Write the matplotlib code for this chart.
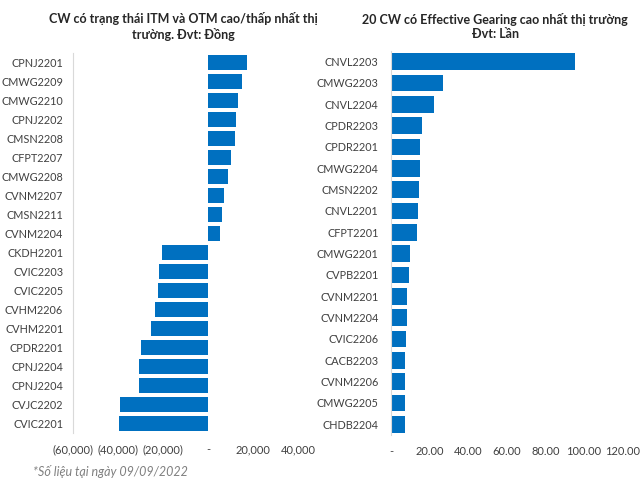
import matplotlib.pyplot as plt
from matplotlib.ticker import FuncFormatter

plt.rcParams['font.family'] = ['Lato', 'DejaVu Sans']

# bieu do trai: ITM / OTM (Dong)
itm_names = ['CPNJ2201', 'CMWG2209', 'CMWG2210', 'CPNJ2202', 'CMSN2208',
             'CFPT2207', 'CMWG2208', 'CVNM2207', 'CMSN2211', 'CVNM2204',
             'CKDH2201', 'CVIC2203', 'CVIC2205', 'CVHM2206', 'CVHM2201',
             'CPDR2201', 'CPNJ2204', 'CPNJ2204', 'CVJC2202', 'CVIC2201']
itm_values = [17300, 15100, 13300, 12400, 12000, 10200, 8900, 7100, 6200, 5300,
              -20400, -21800, -22200, -23500, -25300, -29800, -30700, -30700,
              -39100, -39600]
itm_ticks = [-60000, -40000, -20000, 0, 20000, 40000]

# bieu do phai: Effective Gearing (Lan)
eg_names = ['CNVL2203', 'CMWG2203', 'CNVL2204', 'CPDR2203', 'CPDR2201',
            'CMWG2204', 'CMSN2202', 'CNVL2201', 'CFPT2201', 'CMWG2201',
            'CVPB2201', 'CVNM2201', 'CVNM2204', 'CVIC2206', 'CACB2203',
            'CVNM2206', 'CMWG2205', 'CHDB2204']
eg_values = [95.4, 26.7, 22.0, 15.9, 14.9, 14.9, 14.4, 13.8, 13.3, 9.7,
             9.2, 8.2, 8.2, 7.7, 7.2, 7.2, 7.2, 7.2]
eg_ticks = [0, 20, 40, 60, 80, 100, 120]

blue = '#0070C0'
txt = '#404040'


def fmt_itm(v, pos):
    if v == 0:
        return '-'
    if v < 0:
        return '({:,.0f})'.format(-v)
    return '{:,.0f}'.format(v)


def fmt_eg(v, pos):
    if v == 0:
        return '-'
    return '{:.2f}'.format(v)


def style(ax, ypad):
    for s in ['top', 'right', 'bottom']:
        ax.spines[s].set_visible(False)
    ax.spines['left'].set_color('#d9d9d9')
    ax.tick_params(length=0, labelsize=8, colors=txt)
    ax.tick_params(axis='x', pad=8)
    ax.tick_params(axis='y', pad=ypad, labelsize=7.8)


fig = plt.figure(figsize=(6.4, 4.8), dpi=100)

ax1 = fig.add_axes([0.114, 0.098, 0.352, 0.792])
ax1.barh(range(len(itm_values)), itm_values, height=0.8, color=blue)
ax1.set_yticks(range(len(itm_names)))
ax1.set_yticklabels(itm_names)
ax1.set_ylim(len(itm_values) - 0.5, -0.5)
ax1.set_xlim(-60000, 40000)
ax1.set_xticks(itm_ticks)
ax1.xaxis.set_major_formatter(FuncFormatter(fmt_itm))
style(ax1, 7)
fig.text(0.287, 0.945, 'CW có trạng thái ITM và OTM cao/thấp nhất thị\ntrường. Đvt: Đồng',
         ha='center', va='center', fontsize=9, fontweight='bold', color='#262626')

ax2 = fig.add_axes([0.611, 0.094, 0.362, 0.80])
ax2.barh(range(len(eg_values)), eg_values, height=0.78, color=blue)
ax2.set_yticks(range(len(eg_names)))
ax2.set_yticklabels(eg_names)
ax2.set_ylim(len(eg_values) - 0.5, -0.5)
ax2.set_xlim(0, 120)
ax2.set_xticks(eg_ticks)
ax2.xaxis.set_major_formatter(FuncFormatter(fmt_eg))
style(ax2, 9)
fig.text(0.774, 0.945, '20 CW có Effective Gearing cao nhất thị trường\nĐvt: Lần',
         ha='center', va='center', fontsize=9, fontweight='bold', color='#262626')

fig.text(0.052, 0.008, '*Số liệu tại ngày 09/09/2022', fontsize=9,
         style='italic', color='#808080')

fig.savefig('out.png', dpi=100)
